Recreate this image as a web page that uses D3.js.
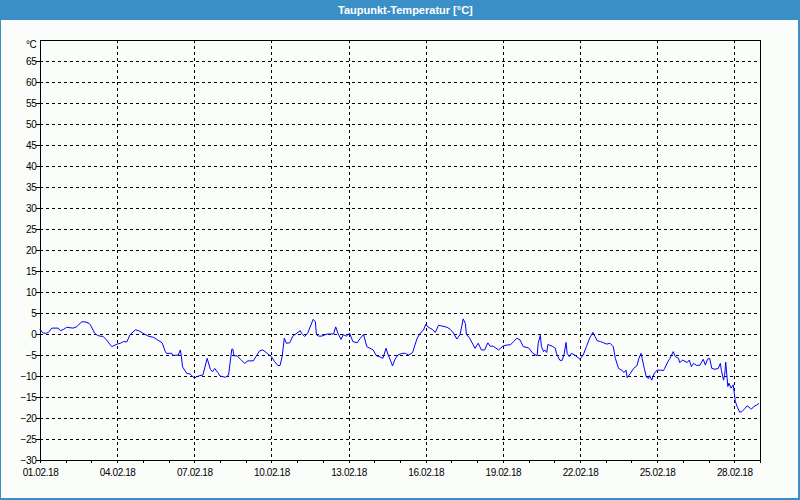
<!DOCTYPE html>
<html>
<head>
<meta charset="utf-8">
<script src="https://cdn.jsdelivr.net/npm/d3@7"></script>
<style>
  html, body { margin: 0; padding: 0; background: #fbfdfb; }
  svg { display: block; }
</style>
</head>
<body>
<svg id="chart" width="800" height="500"></svg>
<script>
// ---- Data ----
const chartTitle = "Taupunkt-Temperatur [°C]";
const unitLabel = "°C";
const startDate = new Date(2018, 1, 1, 0, 0);   // 01.02.18 00:00
const endDate = new Date(2018, 2, 1, 0, 0);     // 01.03.18 00:00
const yTicks = [-30, -25, -20, -15, -10, -5, 0, 5, 10, 15, 20, 25, 30, 35, 40, 45, 50, 55, 60, 65];
const yMax = 70;
// hours since 01.02.18 00:00
const hoursSinceStart = [
  0, 3, 6, 8, 11, 17, 19, 22, 25, 31, 34, 39, 42, 46, 47, 51, 54, 59, 62, 67,
  72, 75, 78, 81, 84, 89, 92, 96, 101, 106, 109, 114, 117, 118, 123, 124, 129, 131, 132, 133,
  137, 140, 144, 146, 149, 152, 156, 159, 161, 163, 166, 168, 173, 176, 179, 180, 181, 184, 187, 191,
  194, 199, 202, 205, 208, 212, 216, 219, 222, 224, 226, 228, 230, 233, 236, 243, 244, 247, 250, 255,
  257, 258, 260, 263, 268, 274, 276, 278, 281, 283, 286, 289, 292, 296, 299, 302, 305, 308, 311, 314,
  317, 320, 323, 325, 327, 329, 331, 334, 338, 341, 344, 347, 348, 352, 355, 358, 360, 362, 366, 369,
  372, 375, 380, 383, 386, 389, 392, 395, 397, 398, 401, 406, 409, 412, 415, 418, 420, 423, 428, 432,
  436, 439, 442, 445, 448, 451, 456, 460, 464, 465, 467, 468, 470, 471, 473, 474, 478, 481, 482, 485,
  487, 489, 491, 492, 494, 496, 499, 502, 504, 507, 510, 513, 516, 518, 520, 523, 526, 529, 532, 535,
  537, 540, 543, 545, 547, 548, 551, 554, 557, 559, 561, 562, 564, 566, 568, 569, 571, 573, 576, 579,
  582, 583, 586, 588, 591, 593, 596, 597, 600, 604, 606, 608, 610, 613, 616, 619, 621, 623, 625, 627,
  630, 633, 635, 636, 638, 639, 640, 642, 643, 645, 647, 648, 649, 651, 653, 655, 658, 660, 663, 664,
  666, 669, 671
];
const dewPoint = [
  1.1, 0.2, 0.2, 0.4, 1.4, 1.4, 0.8, 1.1, 1.6, 1.4, 1.7, 2.9, 2.9, 2.5, 2.2, 0.2, -0.4, -0.6, -1.4, -3.0,
  -2.4, -2.2, -1.8, -1.9, -0.2, 1.0, 0.8, 0.2, -0.5, -0.8, -1.3, -2.1, -4.2, -4.6, -4.6, -5.1, -5.0, -3.8, -5.4, -7.8,
  -9.4, -9.5, -10.5, -10.2, -9.9, -9.8, -5.8, -8.4, -9.0, -8.2, -9.2, -10.0, -10.3, -9.8, -3.6, -3.6, -5.2, -5.2, -6.0, -7.0,
  -6.4, -6.4, -5.2, -4.0, -3.8, -4.6, -5.4, -6.6, -7.5, -7.5, -5.4, -1.0, -2.2, -2.1, -0.5, 0.8, 0.2, -0.6, 0.3, 3.5,
  2.9, -0.2, -0.5, -0.5, 0.0, 0.0, 1.7, 0.2, -1.3, -0.2, -0.5, 0.2, -1.8, -2.1, -1.0, -0.1, -3.0, -3.4, -3.8, -5.2,
  -5.4, -5.8, -3.4, -5.0, -6.2, -7.6, -6.2, -5.0, -4.6, -4.6, -5.0, -4.6, -4.2, -1.0, 0.2, 1.0, 2.3, 1.7, 1.1, 0.4,
  2.1, 1.9, 1.6, 1.1, 0.2, -1.2, -0.2, 3.6, 2.5, -0.1, -1.0, -3.4, -2.2, -3.8, -3.8, -2.1, -2.9, -2.9, -3.8, -2.9,
  -2.6, -2.6, -1.8, -1.0, -1.4, -3.0, -3.3, -4.6, -5.2, -2.2, -0.3, -3.0, -4.2, -3.8, -4.4, -2.5, -2.9, -3.4, -4.6, -6.2,
  -6.4, -5.0, -2.0, -4.6, -5.4, -4.6, -5.0, -5.6, -6.0, -5.0, -3.0, -1.0, 0.4, -0.6, -1.6, -1.8, -2.1, -2.4, -2.2, -3.0,
  -5.8, -8.2, -8.6, -9.2, -8.6, -10.4, -9.4, -8.2, -7.6, -5.8, -4.6, -5.8, -8.2, -10.3, -10.6, -9.9, -11.0, -9.5, -8.6, -8.6,
  -8.7, -8.2, -6.6, -5.8, -4.2, -5.4, -5.8, -6.8, -6.2, -6.8, -6.2, -7.8, -7.0, -7.5, -7.4, -6.0, -7.4, -6.0, -5.8, -8.2,
  -8.4, -8.2, -7.0, -8.7, -11.0, -9.8, -6.7, -12.5, -11.7, -12.9, -12.1, -14.1, -16.1, -17.5, -18.6, -18.5, -17.7, -17.1, -17.7, -17.9,
  -17.3, -16.9, -16.5
];

// ---- Layout ----
const W = 800, H = 500;
const plot = { left: 40, top: 40, right: 760, bottom: 460 };
const fontFamily = "'Liberation Sans', Arial, sans-serif";

const svg = d3.select("#chart");

// window background and frame
svg.append("rect").attr("x", 0).attr("y", 0).attr("width", W).attr("height", H).attr("fill", "#fbfdfb");
svg.append("rect").attr("x", 0).attr("y", 0).attr("width", W).attr("height", 20).attr("fill", "#3b8fc7");
svg.append("rect").attr("x", 0).attr("y", 20).attr("width", 1).attr("height", H - 20).attr("fill", "#3b8fc7");
svg.append("rect").attr("x", W - 2).attr("y", 20).attr("width", 2).attr("height", H - 20).attr("fill", "#3b8fc7");
svg.append("rect").attr("x", 0).attr("y", H - 2).attr("width", W).attr("height", 2).attr("fill", "#3b8fc7");

svg.append("text")
  .attr("x", 338).attr("y", 13.5)
  .attr("fill", "#ffffff")
  .attr("font-family", fontFamily)
  .attr("font-size", "11px")
  .attr("font-weight", "bold")
  .text(chartTitle);

// scales
const x = d3.scaleTime().domain([startDate, endDate]).range([plot.left, plot.right]);
const y = d3.scaleLinear().domain([yTicks[0], yMax]).range([plot.bottom, plot.top]);

const data = hoursSinceStart.map((h, i) => ({
  t: new Date(startDate.getTime() + h * 3600 * 1000),
  v: dewPoint[i]
}));

// grid lines
const majorDays = d3.timeDay.every(3).range(startDate, endDate).filter(d => d > startDate);
// ensure every 3 days from start
const majorTicks = d3.range(0, 28, 3).map(d => d3.timeDay.offset(startDate, d));
const gridG = svg.append("g").attr("shape-rendering", "crispEdges");
gridG.selectAll("line.vg")
  .data(majorTicks.slice(1))
  .join("line")
  .attr("x1", d => Math.round(x(d)) + 0.5).attr("x2", d => Math.round(x(d)) + 0.5)
  .attr("y1", plot.top).attr("y2", plot.bottom)
  .attr("stroke", "#000").attr("stroke-width", 1).attr("stroke-dasharray", "3,3");
gridG.selectAll("line.hg")
  .data(yTicks.slice(1))
  .join("line")
  .attr("x1", plot.left).attr("x2", plot.right)
  .attr("y1", d => Math.round(y(d)) + 0.5).attr("y2", d => Math.round(y(d)) + 0.5)
  .attr("stroke", "#000").attr("stroke-width", 1).attr("stroke-dasharray", "3,3");

// axes
const allDays = d3.range(0, 29).map(d => d3.timeDay.offset(startDate, d));
const xAxis = d3.axisBottom(x)
  .tickValues(allDays)
  .tickSize(3)
  .tickSizeOuter(0)
  .tickFormat(d => (d3.timeDay.count(startDate, d) % 3 === 0 && d < endDate) ? d3.timeFormat("%d.%m.%y")(d) : "");
const gx = svg.append("g")
  .attr("transform", `translate(0,${plot.bottom})`)
  .call(xAxis);
gx.select(".domain").remove();
gx.selectAll(".tick line").attr("stroke", "#000").attr("shape-rendering", "crispEdges");
gx.selectAll(".tick text")
  .attr("y", 9)
  .attr("dy", "0.71em")
  .attr("fill", "#000")
  .attr("font-family", fontFamily)
  .attr("font-size", "10px")
  .attr("letter-spacing", "-0.4px");

const yAxis = d3.axisLeft(y)
  .tickValues(yTicks.concat([yMax]))
  .tickSize(4)
  .tickSizeOuter(0)
  .tickFormat(d => d === yMax ? unitLabel : d3.format("d")(d));
const gy = svg.append("g")
  .attr("transform", `translate(${plot.left},0)`)
  .call(yAxis);
gy.select(".domain").remove();
gy.selectAll(".tick line").attr("stroke", "#000").attr("shape-rendering", "crispEdges")
  .attr("display", d => d === yMax ? "none" : null);
gy.selectAll(".tick text")
  .attr("x", -3.5)
  .attr("fill", "#000")
  .attr("font-family", fontFamily)
  .attr("font-size", "10px")
  .attr("letter-spacing", "-0.3px")
  .attr("dy", d => d === yMax ? "0.72em" : "0.34em")
  .attr("y", d => d === yMax ? 0 : 0);

// plot frame
svg.append("rect")
  .attr("x", plot.left + 0.5).attr("y", plot.top + 0.5)
  .attr("width", plot.right - plot.left).attr("height", plot.bottom - plot.top)
  .attr("fill", "none").attr("stroke", "#000").attr("stroke-width", 1)
  .attr("shape-rendering", "crispEdges");

// data line
const line = d3.line().x(d => x(d.t)).y(d => y(d.v));
svg.append("path")
  .datum(data)
  .attr("d", line)
  .attr("fill", "none")
  .attr("stroke", "#0000ff")
  .attr("stroke-width", 1);
</script>
</body>
</html>
